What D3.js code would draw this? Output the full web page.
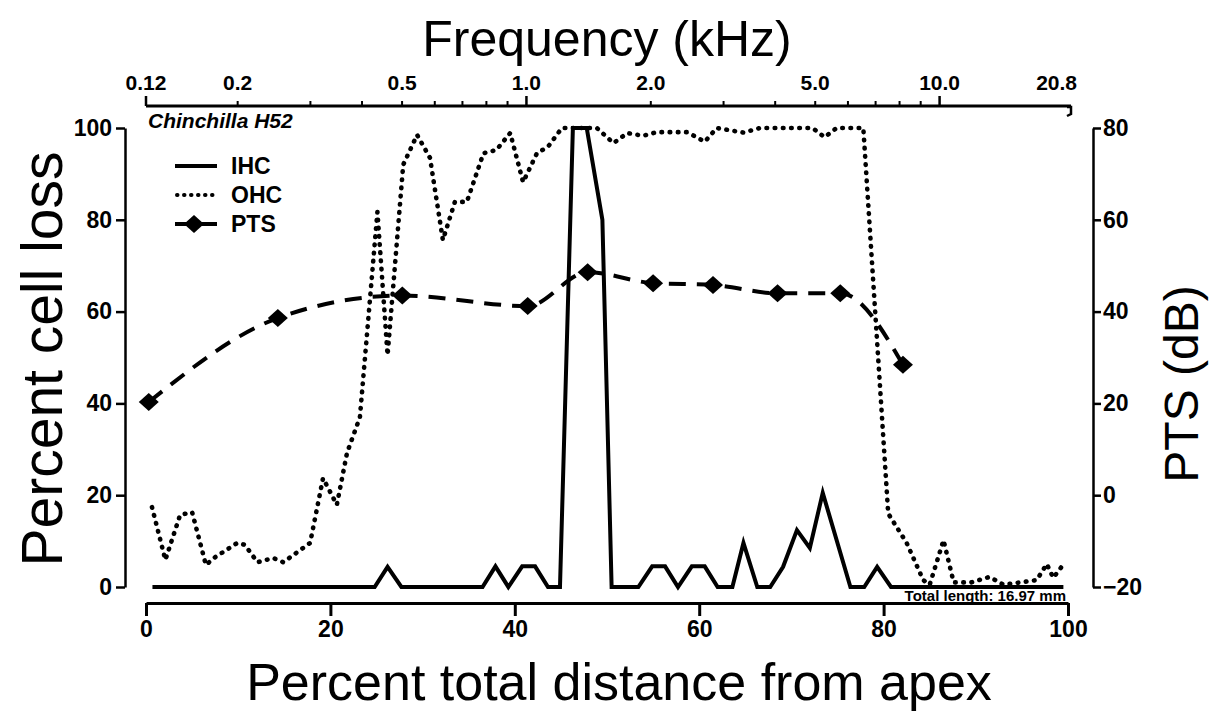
<!DOCTYPE html>
<html>
<head>
<meta charset="utf-8">
<script src="https://cdn.jsdelivr.net/npm/d3@7"></script>
<style>
  body { margin: 0; background: #fff; }
  svg { display: block; }
  text { font-family: "Liberation Sans", Arial, sans-serif; fill: #000; }
</style>
</head>
<body>
<svg id="chart" width="1212" height="721"></svg>
<script>
// distance ticks (% from apex), left and right axis ticks
const distTicks = [0, 20, 40, 60, 80, 100]
const lossTicks = [0, 20, 40, 60, 80, 100]
const ptsTicks = [-20, 0, 20, 40, 60, 80]

// frequency axis (kHz)
const freqLabels = [0.12, 0.2, 0.5, 1, 2, 5, 10, 20.8]
const freqLabelText = ['0.12', '0.2', '0.5', '1.0', '2.0', '5.0', '10.0', '20.8']
const freqMinor = [0.2, 0.3, 0.4, 0.5, 0.6, 0.7, 0.8, 0.9, 2, 3, 4, 5, 6, 7, 8, 9]
const freqMajor = [1, 10]

// [percent distance, percent loss]
const ihc = [
  [0.7, 0], [24.8, 0], [26.2, 4.4], [27.7, 0], [36.5, 0], [37.9, 4.5], [39.3, 0],
  [40.8, 4.5], [42.2, 4.5], [43.6, 0], [44.9, 0], [46.3, 100], [47.8, 100], [49.5, 80],
  [50.5, 0], [53.4, 0], [54.9, 4.5], [56.3, 4.5], [57.7, 0], [59.2, 4.5], [60.6, 4.5],
  [62.0, 0], [63.6, 0], [64.8, 9.6], [66.3, 0], [67.7, 0], [69.1, 4.4], [70.6, 12.4],
  [72.0, 8.5], [73.4, 20.5], [76.4, 0], [77.9, 0], [79.3, 4.4], [80.8, 0], [99.5, 0]
]
const ohc = [
  [0.65, 17.4], [2.1, 5.9], [3.7, 15.7], [5.0, 16.3], [6.5, 4.8], [7.5, 6.5], [9.9, 9.6],
  [10.7, 9.2], [12.1, 5.4], [13.8, 6.3], [14.9, 5.4], [17.8, 9.6], [19.2, 23.7], [20.7, 17.9],
  [21.8, 29.2], [23.2, 37], [25.1, 81.7], [26.2, 50.5], [27.9, 92], [29.4, 98.5], [30.8, 93.5],
  [32.2, 75.6], [33.5, 83.9], [34.8, 83.9], [36.6, 94.5], [38.0, 95.2], [39.5, 98.9], [40.9, 88.2],
  [42.4, 94.5], [43.6, 95.9], [45.1, 100], [48.9, 100], [50.7, 96.7], [52.2, 98.9], [53.9, 98.3],
  [55.4, 99.1], [58.7, 99.1], [60.6, 97], [61.9, 100], [64.8, 99], [66.6, 100], [72.3, 100],
  [73.6, 98], [74.9, 100], [77.8, 100], [80.5, 16], [82.5, 9.6], [84.3, 1.5], [85.0, 0.5],
  [86.5, 10.2], [87.6, 1], [89.5, 1], [91.5, 2.2], [93.0, 0.5], [96.6, 1.5], [97.7, 5],
  [98.4, 2], [99.3, 4.4]
]
// [percent distance, PTS dB]
const pts = [
  [0.3, 20.3], [14.3, 38.6], [27.8, 43.5], [41.4, 41.2], [47.9, 48.6],
  [55.0, 46.2], [61.5, 45.8], [68.5, 44], [75.3, 44], [82.1, 28.4]
]

const svg = d3.select('#chart')
svg.append('rect').attr('width', 1212).attr('height', 721).attr('fill', '#fff')

const x = d3.scaleLinear().domain([0, 100]).range([146, 1068])
const yL = d3.scaleLinear().domain([0, 100]).range([587, 128])
const yR = d3.scaleLinear().domain([-20, 80]).range([587, 128])
const freq = d3.scaleLog().domain([0.12, 20.8]).range([146, 1071])

const tickFont = g => g.selectAll('text')
  .style('font-size', '23px').style('font-weight', 'bold')
  .style('font-family', '"Liberation Sans", Arial, sans-serif')

// bottom axis
svg.append('g')
  .attr('transform', 'translate(0,603)')
  .call(d3.axisBottom(x).tickValues(distTicks).tickSize(13).tickSizeOuter(0).tickPadding(5))
  .call(tickFont)
  .call(g => g.selectAll('path,line').attr('stroke-width', 3))

// left axis
svg.append('g')
  .attr('transform', 'translate(125,0)')
  .call(d3.axisLeft(yL).tickValues(lossTicks).tickSize(9).tickSizeOuter(0).tickPadding(4))
  .call(tickFont)
  .call(g => g.selectAll('path,line').attr('stroke-width', 2.5))

// right axis
svg.append('g')
  .attr('transform', 'translate(1093,0)')
  .call(d3.axisRight(yR).tickValues(ptsTicks).tickSize(8).tickSizeOuter(0).tickPadding(2))
  .call(tickFont)
  .call(g => g.selectAll('path,line').attr('stroke-width', 2.5))

// top (frequency) axis
let freqAxis = svg.append('g').attr('transform', 'translate(0,106)')
freqAxis.append('line')
  .attr('x1', freq(0.12)).attr('x2', freq(20.8))
  .attr('stroke', '#000').attr('stroke-width', 3)
freqAxis.selectAll('line.minor').data(freqMinor).join('line')
  .attr('class', 'minor')
  .attr('x1', d => freq(d)).attr('x2', d => freq(d))
  .attr('y1', 0).attr('y2', -5)
  .attr('stroke', '#000').attr('stroke-width', 2)
freqAxis.selectAll('line.major').data(freqMajor.concat([0.12])).join('line')
  .attr('class', 'major')
  .attr('x1', d => freq(d)).attr('x2', d => freq(d))
  .attr('y1', 0).attr('y2', -10)
  .attr('stroke', '#000').attr('stroke-width', 2.5)
freqAxis.append('path')
  .attr('d', `M${freq(20.8) - 4},1 L${freq(20.8)},1 L${freq(20.8)},8 L${freq(20.8) - 4},10`)
  .attr('fill', 'none').attr('stroke', '#000').attr('stroke-width', 2.5)
freqAxis.selectAll('text').data(freqLabels).join('text')
  .attr('x', d => freq(d))
  .attr('y', -16)
  .attr('text-anchor', (d, i) => i === freqLabels.length - 1 ? 'end' : 'middle')
  .attr('dx', (d, i) => i === freqLabels.length - 1 ? 6 : 0)
  .style('font-size', '21px').style('font-weight', 'bold')
  .text((d, i) => freqLabelText[i])

// titles
svg.append('text').attr('x', 607).attr('y', 56).attr('text-anchor', 'middle')
  .style('font-size', '50px').text('Frequency (kHz)')
svg.append('text').attr('x', 619).attr('y', 700).attr('text-anchor', 'middle')
  .style('font-size', '52px').text('Percent total distance from apex')
svg.append('text').attr('transform', 'translate(62,359) rotate(-90)').attr('text-anchor', 'middle')
  .style('font-size', '57px').text('Percent cell loss')
svg.append('text').attr('transform', 'translate(1198,384) rotate(-90)').attr('text-anchor', 'middle')
  .style('font-size', '48px').text('PTS (dB)')

// data lines
let plot = svg.append('g')
let lossLine = d3.line().x(d => x(d[0])).y(d => yL(d[1]))
let ptsLine = d3.line().x(d => x(d[0])).y(d => yR(d[1])).curve(d3.curveMonotoneX)

plot.append('path').datum(ohc).attr('d', lossLine)
  .attr('fill', 'none').attr('stroke', '#000').attr('stroke-width', 4.6)
  .attr('stroke-linecap', 'round').attr('stroke-linejoin', 'round')
  .attr('stroke-dasharray', '0.6 7.6')

plot.append('path').datum(ihc).attr('d', lossLine)
  .attr('fill', 'none').attr('stroke', '#000').attr('stroke-width', 4)
  .attr('stroke-linejoin', 'miter')

plot.append('path').datum(pts).attr('d', ptsLine)
  .attr('fill', 'none').attr('stroke', '#000').attr('stroke-width', 4)
  .attr('stroke-dasharray', '17 11')

const diamond = 'M-10,0 L0,-9 L10,0 L0,9 Z'
plot.selectAll('path.pts-pt').data(pts).join('path')
  .attr('class', 'pts-pt')
  .attr('transform', d => `translate(${x(d[0])},${yR(d[1])})`)
  .attr('d', diamond).attr('fill', '#000')

// legend
let legend = svg.append('g')
legend.append('text').attr('x', 148).attr('y', 128)
  .style('font-size', '21px').style('font-style', 'italic').style('font-weight', 'bold')
  .text('Chinchilla H52')
const legendItems = ['IHC', 'OHC', 'PTS']
legendItems.forEach((name, i) => {
  let ly = 166 + i * 29
  let g = legend.append('g')
  if (name === 'IHC') {
    g.append('line').attr('x1', 175).attr('x2', 217).attr('y1', ly).attr('y2', ly)
      .attr('stroke', '#000').attr('stroke-width', 4)
  } else if (name === 'OHC') {
    g.append('line').attr('x1', 177).attr('x2', 215).attr('y1', ly).attr('y2', ly)
      .attr('stroke', '#000').attr('stroke-width', 4)
      .attr('stroke-linecap', 'round').attr('stroke-dasharray', '0.5 6.5')
  } else {
    g.append('line').attr('x1', 175).attr('x2', 217).attr('y1', ly).attr('y2', ly)
      .attr('stroke', '#000').attr('stroke-width', 4).attr('stroke-dasharray', '13 6 23')
    g.append('path').attr('transform', `translate(194,${ly})`).attr('d', diamond).attr('fill', '#000')
  }
  g.append('text').attr('x', 231).attr('y', ly + 8)
    .style('font-size', '23px').style('font-weight', 'bold').text(name)
})

// cochlea length note
svg.append('text').attr('x', 1066).attr('y', 601).attr('text-anchor', 'end')
  .style('font-size', '15px').style('font-weight', 'bold').style('text-decoration', 'underline')
  .text('Total length: 16.97 mm')
</script>
</body>
</html>
